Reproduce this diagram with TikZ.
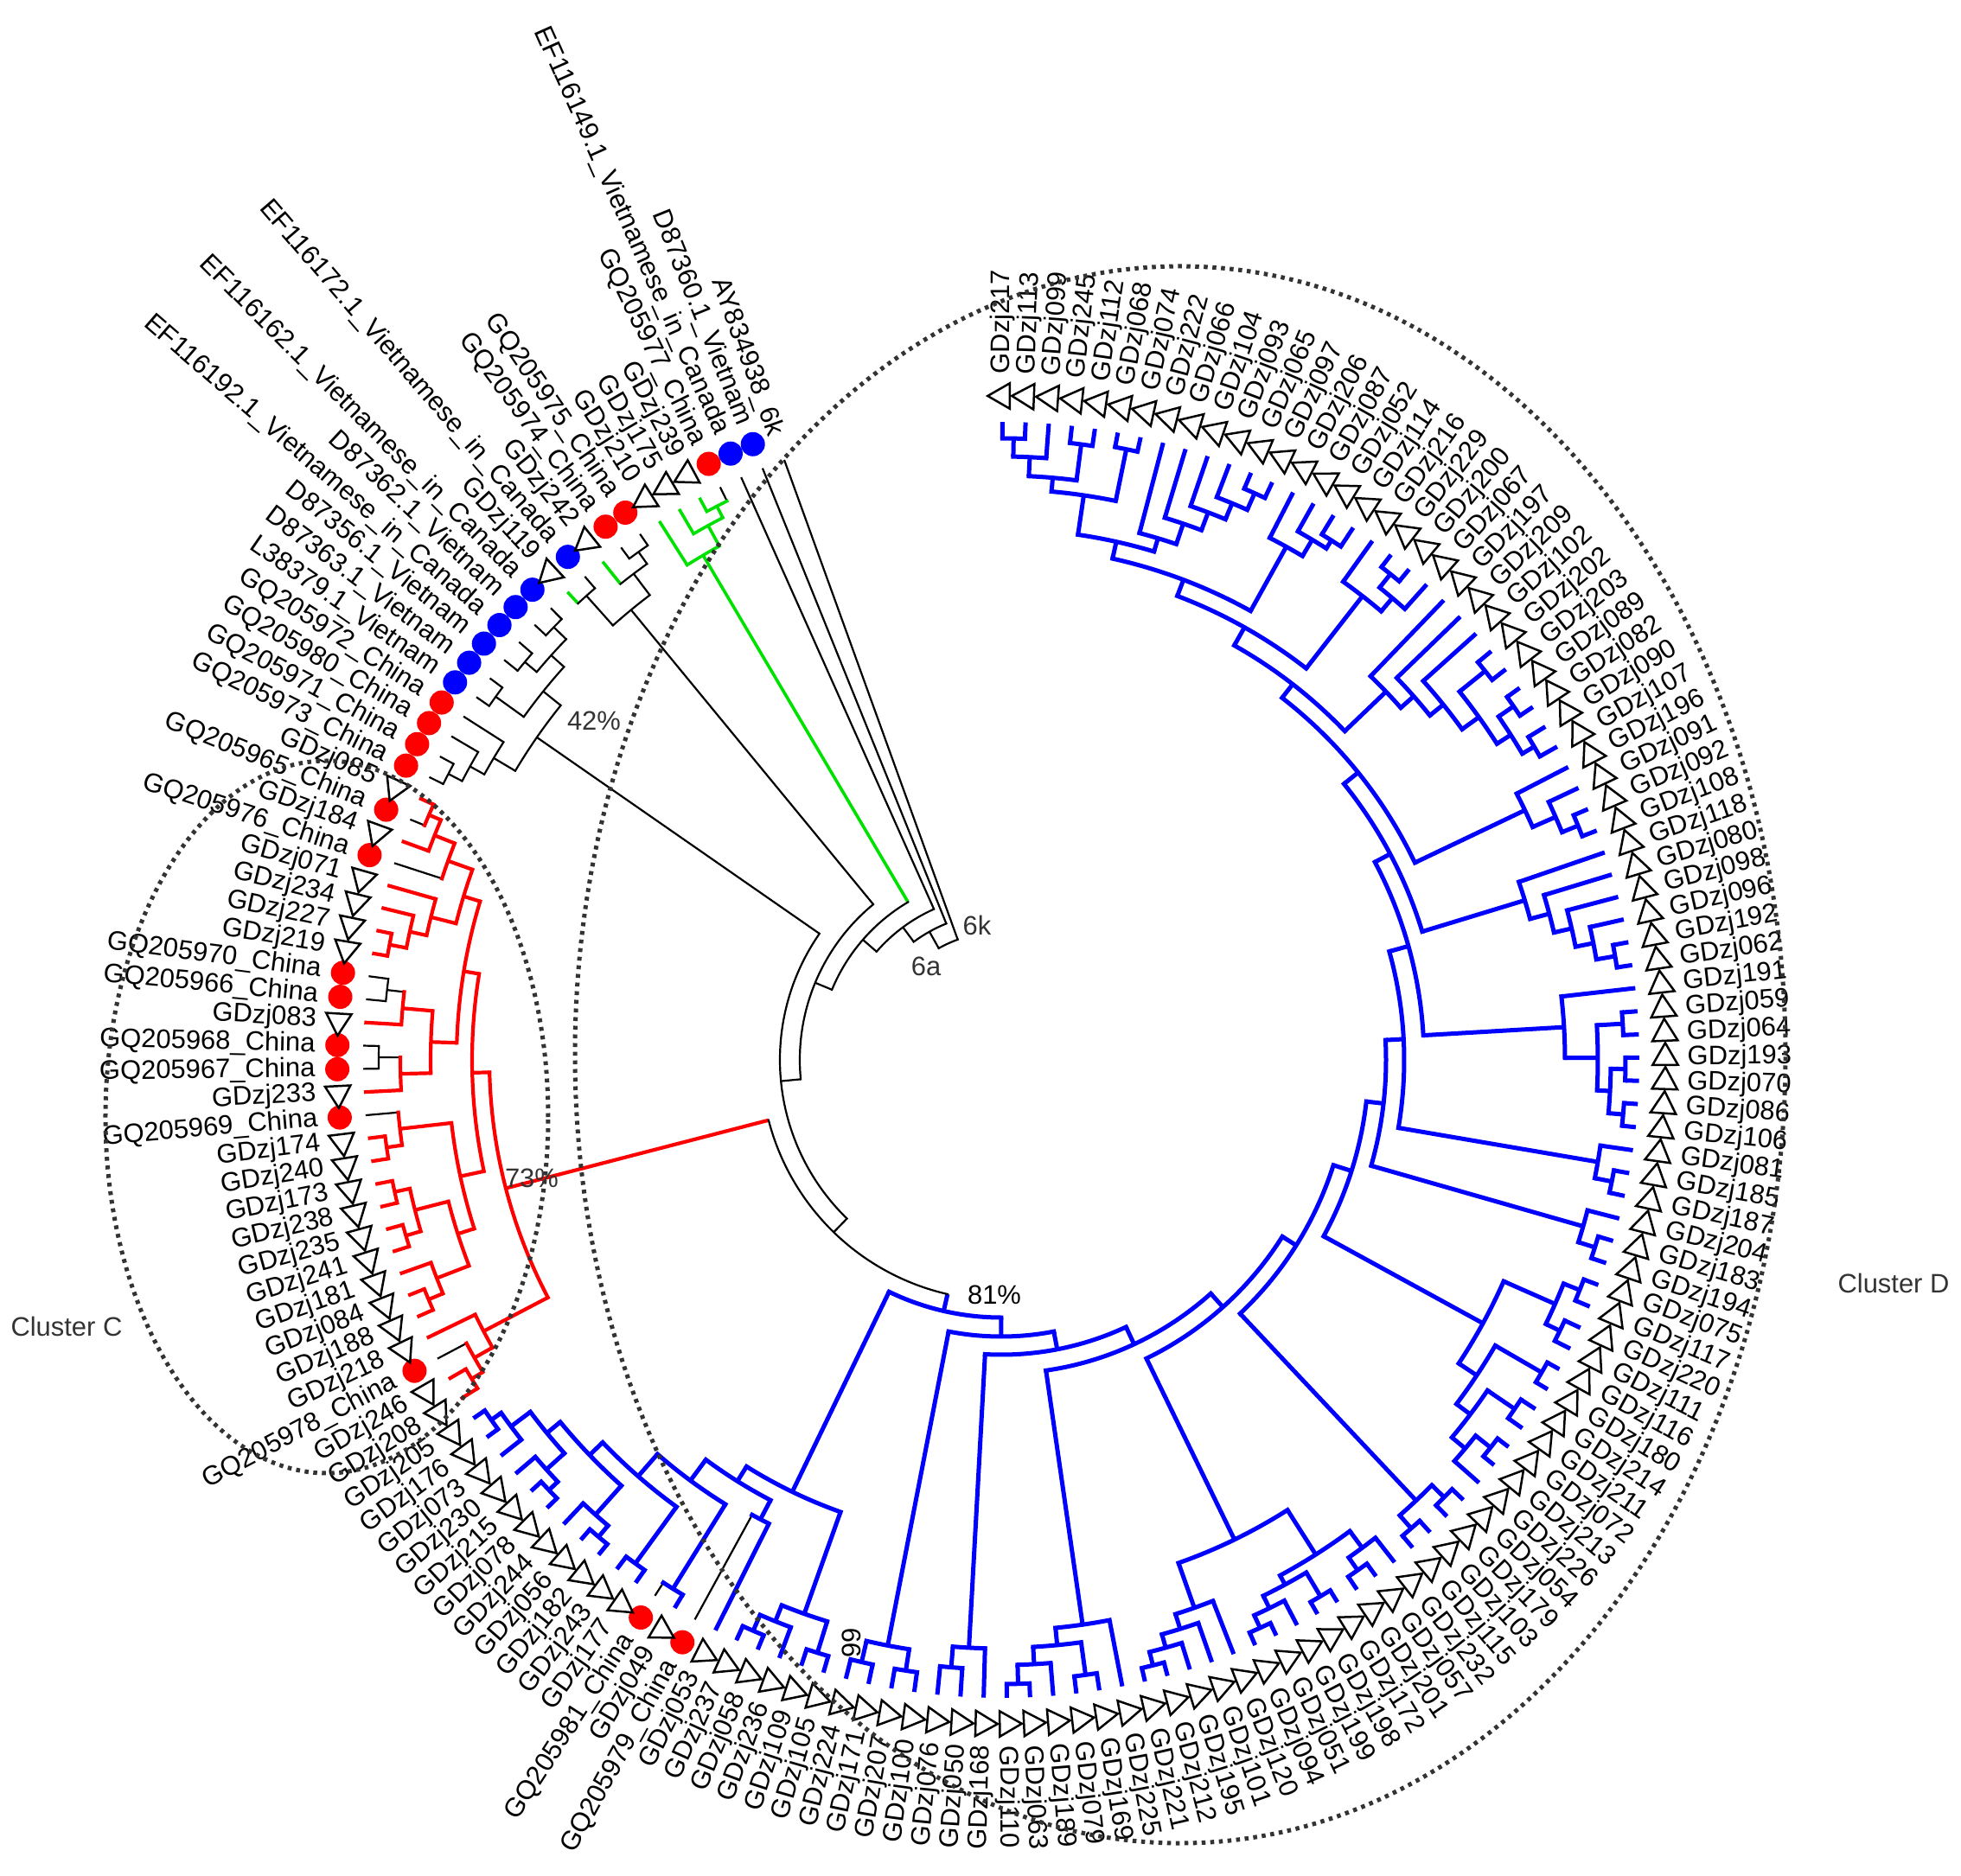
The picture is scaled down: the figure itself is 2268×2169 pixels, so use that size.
\documentclass[tikz,border=0pt]{standalone}
\usepackage{fontspec}
\setmainfont{Liberation Sans}
\definecolor{mblue}{RGB}{0,0,255}
\definecolor{mred}{RGB}{255,0,0}
\definecolor{mgreen}{RGB}{0,225,0}
\definecolor{mgray}{RGB}{51,51,51}
\newcommand\SetC[2]{\foreach \i in {#1}{\expandafter\xdef\csname tc:\i\endcsname{#2}}}
\newcommand\J[5]{%
  \edef\ja{\csname ta:#3\endcsname}%
  \edef\jb{\csname ta:#4\endcsname}%
  \edef\jra{\csname tr:#3\endcsname}%
  \edef\jrb{\csname tr:#4\endcsname}%
  \edef\jdA{\noexpand\draw[\csname tc:#3\endcsname]}%
  \edef\jdB{\noexpand\draw[\csname tc:#4\endcsname]}%
  \jdA (\ja:#2) -- (\ja:\jra);
  \jdB (\jb:#2) -- (\jb:\jrb);
  \draw[#5,line cap=rect] (\ja:#2) arc[start angle=\ja, end angle=\jb, radius=#2];
  \pgfmathsetmacro\jm{(\ja+\jb)/2}%
  \expandafter\xdef\csname ta:#1\endcsname{\jm}%
  \expandafter\xdef\csname tr:#1\endcsname{#2}%
  \expandafter\xdef\csname tc:#1\endcsname{#5}%
}
\newcommand\mkT[1]{\def\lr{793}\begin{scope}[shift={(#1:768)},rotate=#1]\draw[line width=0.25mm,fill=white] (0,17) -- (-14.7,-8.5) -- (14.7,-8.5) -- cycle;\end{scope}}
\newcommand\mkR[1]{\def\lr{793}\fill[mred] (#1:768) circle[radius=14];}
\newcommand\mkB[1]{\def\lr{793}\fill[mblue] (#1:768) circle[radius=14];}
\newcommand\mkN[1]{\def\lr{768}}
\begin{document}
\begin{tikzpicture}[x=0.1mm,y=0.1mm,
  cB/.style={draw=mblue,line width=0.5mm},
  cR/.style={draw=mred,line width=0.42mm},
  cK/.style={draw=black,line width=0.22mm},
  cG/.style={draw=mgreen,line width=0.36mm},
  lbl/.style={font=\fontsize{8.8}{10}\selectfont,inner sep=0pt,text=black},
  note/.style={font=\fontsize{8.8}{10}\selectfont,inner sep=0pt,text=mgray},
  dots/.style={draw=mgray,line width=0.5mm,dash pattern=on 0.45mm off 0.55mm}]
\useasboundingbox (-1158,-943) rectangle (1110,1226);
% leaf angles
\foreach \i in {1,...,164}{%
  \pgfmathsetmacro\a{89.9-(\i-1)*2.086}%
  \expandafter\xdef\csname ta:\i\endcsname{\a}%
  \expandafter\xdef\csname tr:\i\endcsname{738}%
}
\SetC{1,...,114}{cB}
\SetC{101,103}{cK}
\SetC{115,...,142}{cR}
\SetC{117,128,130,131,133,134,139,141}{cK}
\SetC{143,...,164}{cK}
\SetC{153,155,158,159,160}{cG}
% ---------------- Cluster D (blue)
\J{a1}{719}{1}{2}{cB}
\J{a2}{698}{a1}{3}{cB}
\J{a3}{718}{4}{5}{cB}
\J{a4}{676}{a2}{a3}{cB}
\J{a5}{721}{6}{7}{cB}
\J{A1}{660}{a4}{a5}{cB}
\J{b1}{718}{12}{13}{cB}
\J{b2}{697}{11}{b1}{cB}
\J{b3}{677}{10}{b2}{cB}
\J{b4}{655}{9}{b3}{cB}
\J{A2}{630}{8}{b4}{cB}
\J{A12}{614}{A1}{A2}{cB}
\J{c1}{712}{16}{17}{cB}
\J{c2}{701}{15}{c1}{cB}
\J{A3}{679}{14}{c2}{cB}
\J{T1}{594}{A12}{A3}{cB}
\J{d1}{720}{19}{20}{cB}
\J{d2}{700}{d1}{21}{cB}
\J{A4}{680}{18}{d2}{cB}
\J{T2}{574}{T1}{A4}{cB}
\J{e1}{718}{25}{26}{cB}
\J{e2}{720}{27}{28}{cB}
\J{e3}{715}{29}{30}{cB}
\J{e4}{699}{e2}{e3}{cB}
\J{e5}{680}{e1}{e4}{cB}
\J{e6}{656}{24}{e5}{cB}
\J{e7}{636}{23}{e6}{cB}
\J{A5}{616}{22}{e7}{cB}
\J{T3}{550}{T2}{A5}{cB}
\J{f1}{720}{33}{34}{cB}
\J{f2}{700}{32}{f1}{cB}
\J{F}{671}{31}{f2}{cB}
\J{T4}{530}{T3}{F}{cB}
\J{g1}{720}{39}{40}{cB}
\J{g2}{698}{38}{g1}{cB}
\J{g3}{677}{37}{g2}{cB}
\J{g4}{656}{36}{g3}{cB}
\J{G}{633}{35}{g4}{cB}
\J{T5}{509}{T4}{G}{cB}
\J{h1}{720}{42}{43}{cB}
\J{h2}{722}{44}{45}{cB}
\J{h3}{722}{46}{47}{cB}
\J{h4}{705}{h2}{h3}{cB}
\J{h5}{690}{h1}{h4}{cB}
\J{H}{652}{41}{h5}{cB}
\J{T6}{489}{T5}{H}{cB}
\J{i1}{720}{49}{50}{cB}
\J{I}{700}{48}{i1}{cB}
\J{T7}{466}{T6}{I}{cB}
\J{j1}{720}{52}{53}{cB}
\J{Jc}{700}{51}{j1}{cB}
\J{T8}{445}{T7}{Jc}{cB}
\J{k1}{720}{54}{55}{cB}
\J{k2}{718}{56}{57}{cB}
\J{k3}{700}{k1}{k2}{cB}
\J{k4}{722}{58}{59}{cB}
\J{k5}{718}{60}{61}{cB}
\J{k6}{722}{62}{63}{cB}
\J{k7}{700}{k6}{64}{cB}
\J{k8}{680}{k5}{k7}{cB}
\J{k9}{660}{k4}{k8}{cB}
\J{K}{635}{k3}{k9}{cB}
\J{T9}{425}{T8}{K}{cB}
\J{l1}{720}{65}{66}{cB}
\J{l2}{720}{67}{68}{cB}
\J{L}{700}{l1}{l2}{cB}
\J{T10}{403}{T9}{L}{cB}
\J{m1}{720}{70}{71}{cB}
\J{m2}{702}{69}{m1}{cB}
\J{m3}{722}{72}{73}{cB}
\J{m4}{722}{75}{76}{cB}
\J{m5}{706}{74}{m4}{cB}
\J{m6}{690}{m3}{m5}{cB}
\J{m7}{678}{m2}{m6}{cB}
\J{n1}{722}{80}{81}{cB}
\J{n2}{706}{79}{n1}{cB}
\J{n3}{690}{78}{n2}{cB}
\J{n4}{672}{77}{n3}{cB}
\J{M}{617}{m7}{n4}{cB}
\J{T11}{384}{T10}{M}{cB}
\J{o1}{722}{86}{87}{cB}
\J{o2}{700}{85}{o1}{cB}
\J{o3}{718}{83}{84}{cB}
\J{o4}{680}{o3}{o2}{cB}
\J{O}{660}{82}{o4}{cB}
\J{T12}{363}{T11}{O}{cB}
\J{p1}{705}{89}{90}{cB}
\J{P}{681}{88}{p1}{cB}
\J{T13}{341}{T12}{P}{cB}
\J{q1}{715}{91}{92}{cB}
\J{q2}{715}{93}{94}{cB}
\J{Q}{690}{q1}{q2}{cB}
\J{T14}{320}{T13}{Q}{cB}
\J{r1}{718}{95}{96}{cB}
\J{r2}{720}{98}{99}{cB}
\J{r3}{700}{97}{r2}{cB}
\J{X}{680}{r1}{r3}{cB}
\J{s1}{600}{100}{101}{cB}
\J{s2}{720}{102}{103}{cB}
\J{w1}{720}{104}{105}{cB}
\J{w2}{722}{106}{107}{cB}
\J{w3}{705}{w2}{108}{cB}
\J{w4}{722}{109}{110}{cB}
\J{w5}{708}{w4}{111}{cB}
\J{w6}{722}{113}{114}{cB}
\J{w7}{708}{112}{w6}{cB}
\J{w8}{680}{w5}{w7}{cB}
\J{w9}{660}{w3}{w8}{cB}
\J{W}{639}{w1}{w9}{cB}
\J{Z}{605}{s2}{W}{cB}
\J{Y}{575}{s1}{Z}{cB}
\J{BL}{555}{X}{Y}{cB}
\J{D}{298}{T14}{BL}{cB}
% ---------------- Cluster C (red)
\J{u1}{715}{115}{116}{cR}
\J{u2}{700}{u1}{117}{cR}
\J{u3}{676}{u2}{118}{cR}
\J{v1}{718}{119}{120}{cR}
\J{v2}{700}{v1}{121}{cR}
\J{v3}{718}{122}{123}{cR}
\J{v4}{718}{124}{125}{cR}
\J{v5}{700}{v3}{v4}{cR}
\J{v6}{660}{v2}{v5}{cR}
\J{v7}{718}{126}{127}{cR}
\J{v8}{700}{v7}{128}{cR}
\J{v9}{640}{v6}{v8}{cR}
\J{x1}{720}{130}{131}{cK}
\J{x2}{695}{129}{x1}{cR}
\J{x3}{715}{133}{134}{cK}
\J{x4}{695}{132}{x3}{cR}
\J{x5}{660}{x2}{x4}{cR}
\J{y1}{720}{135}{136}{cR}
\J{y2}{700}{y1}{137}{cR}
\J{y3}{680}{y2}{138}{cR}
\J{y4}{720}{141}{142}{cR}
\J{y5}{705}{140}{y4}{cR}
\J{y6}{680}{139}{y5}{cR}
\J{y7}{650}{y3}{y6}{cR}
\J{y8}{630}{x5}{y7}{cR}
\J{Cup}{612}{v9}{y8}{cR}
\J{C}{592}{u3}{Cup}{cR}
% ---------------- other clades
\J{z1}{720}{143}{144}{cK}
\J{z2}{702}{z1}{145}{cK}
\J{z3}{683}{z2}{146}{cK}
\J{z4}{720}{147}{148}{cK}
\J{z5}{718}{149}{150}{cK}
\J{z6}{720}{151}{152}{cK}
\J{z7}{700}{z5}{z6}{cK}
\J{z8}{680}{z4}{z7}{cK}
\J{Q42}{654}{z3}{z8}{cK}
\J{bb1}{720}{153}{154}{cK}
\J{bb2}{722}{156}{157}{cK}
\J{bb3}{705}{155}{bb2}{cK}
\J{Bb}{674}{bb1}{bb3}{cK}
\J{gg1}{720}{160}{161}{cG}
\J{gg2}{705}{159}{gg1}{cG}
\J{Gr}{678}{158}{gg2}{cG}
% root ladder
\J{P1}{278}{C}{D}{cK}
\J{P2}{256}{Q42}{P1}{cK}
\J{P3}{233}{Bb}{P2}{cK}
\J{P4}{212}{Gr}{P3}{cK}
\J{P5}{191}{162}{P4}{cK}
\J{P6}{170}{163}{P5}{cK}
\J{P7}{148}{164}{P6}{cK}
% ---------------- markers and labels
\foreach \i/\m/\t in {1/T/GDzj217,2/T/GDzj113,3/T/GDzj099,4/T/GDzj245,5/T/GDzj112,6/T/GDzj068,7/T/GDzj074,8/T/GDzj222,9/T/GDzj066,10/T/GDzj104,
11/T/GDzj093,12/T/GDzj065,13/T/GDzj097,14/T/GDzj206,15/T/GDzj087,16/T/GDzj052,17/T/GDzj114,18/T/GDzj216,19/T/GDzj229,20/T/GDzj200,
21/T/GDzj067,22/T/GDzj197,23/T/GDzj209,24/T/GDzj102,25/T/GDzj202,26/T/GDzj203,27/T/GDzj089,28/T/GDzj082,29/T/GDzj090,30/T/GDzj107,
31/T/GDzj196,32/T/GDzj091,33/T/GDzj092,34/T/GDzj108,35/T/GDzj118,36/T/GDzj080,37/T/GDzj098,38/T/GDzj096,39/T/GDzj192,40/T/GDzj062,
41/T/GDzj191,42/T/GDzj059,43/T/GDzj064,44/T/GDzj193,45/T/GDzj070,46/T/GDzj086,47/T/GDzj106,48/T/GDzj081,49/T/GDzj185,50/T/GDzj187,
51/T/GDzj204,52/T/GDzj183,53/T/GDzj194,54/T/GDzj075,55/T/GDzj117,56/T/GDzj220,57/T/GDzj111,58/T/GDzj116,59/T/GDzj180,60/T/GDzj214,
61/T/GDzj211,62/T/GDzj072,63/T/GDzj213,64/T/GDzj226,65/T/GDzj054,66/T/GDzj179,67/T/GDzj103,68/T/GDzj115,69/T/GDzj232,70/T/GDzj057,
71/T/GDzj201,72/T/GDzj172,73/T/GDzj198,74/T/GDzj199,75/T/GDzj051,76/T/GDzj094,77/T/GDzj120,78/T/GDzj101,79/T/GDzj195,80/T/GDzj212,
81/T/GDzj221,82/T/GDzj225,83/T/GDzj169,84/T/GDzj079,85/T/GDzj189,86/T/GDzj063,87/T/GDzj110,88/T/GDzj168,89/T/GDzj050,90/T/GDzj076,
91/T/GDzj100,92/T/GDzj207,93/T/GDzj171,94/T/GDzj224,95/T/GDzj105,96/T/GDzj109,97/T/GDzj236,98/T/GDzj058,99/T/GDzj237,100/T/GDzj053,
101/R/GQ205979\_China,102/T/GDzj049,103/R/GQ205981\_China,104/T/GDzj177,105/T/GDzj243,106/T/GDzj182,107/T/GDzj056,108/T/GDzj244,109/T/GDzj078,110/T/GDzj215,
111/T/GDzj230,112/T/GDzj073,113/T/GDzj176,114/T/GDzj205,115/T/GDzj208,116/T/GDzj246,117/R/GQ205978\_China,118/T/GDzj218,119/T/GDzj188,120/T/GDzj084,
121/T/GDzj181,122/T/GDzj241,123/T/GDzj235,124/T/GDzj238,125/T/GDzj173,126/T/GDzj240,127/T/GDzj174,128/R/GQ205969\_China,129/T/GDzj233,130/R/GQ205967\_China,
131/R/GQ205968\_China,132/T/GDzj083,133/R/GQ205966\_China,134/R/GQ205970\_China,135/T/GDzj219,136/T/GDzj227,137/T/GDzj234,138/T/GDzj071,139/R/GQ205976\_China,140/T/GDzj184,
141/R/GQ205965\_China,142/T/GDzj085,143/R/GQ205973\_China,144/R/GQ205971\_China,145/R/GQ205980\_China,146/R/GQ205972\_China,147/B/L38379.1\_Vietnam,148/B/D87363.1\_Vietnam,149/B/D87356.1\_Vietnam,150/B/EF116192.1\_Vietnamese\_in\_Canada,
151/B/D87362.1\_Vietnam,152/B/EF116162.1\_Vietnamese\_in\_Canada,153/T/GDzj119,154/B/EF116172.1\_Vietnamese\_in\_Canada,155/T/GDzj242,156/R/GQ205974\_China,157/R/GQ205975\_China,158/T/GDzj210,159/T/GDzj175,160/T/GDzj239,
161/R/GQ205977\_China,162/B/EF116149.1\_Vietnamese\_in\_Canada,163/B/D87360.1\_Vietnam,164/N/AY834938\_6k}{%
  \pgfmathsetmacro\a{89.9-(\i-1)*2.086}%
  \csname mk\m\endcsname{\a}%
  \ifdim\a pt>-90pt
    \node[lbl,anchor=west,rotate=\a] (L\i) at (\a:\lr) {\t};
  \else
    \pgfmathsetmacro\b{\a+180}%
    \node[lbl,anchor=east,rotate=\b] (L\i) at (\a:\lr) {\t};
  \fi
}
% ---------------- cluster outlines and notes
\draw[dots] (207,6) ellipse[x radius=700, y radius=912];
\draw[dots] (-780,-66) ellipse[x radius=256, y radius=412];
\node[note] (clC) at (-1081,-308) {Cluster C};
\node[note] (clD) at (1032,-258) {Cluster D};
\node[note] (b42) at (-471,392) {42\%};
\node[note] (b73) at (-543,-137) {73\%};
\node[note] (g6k) at (-28,156) {6k};
\node[note] (g6a) at (-87,108) {6a};
\node[lbl] (b81) at (-8,-272) {81\%};
\node[lbl,rotate=90] (b99) at (-173,-674) {99};
\end{tikzpicture}
\end{document}
